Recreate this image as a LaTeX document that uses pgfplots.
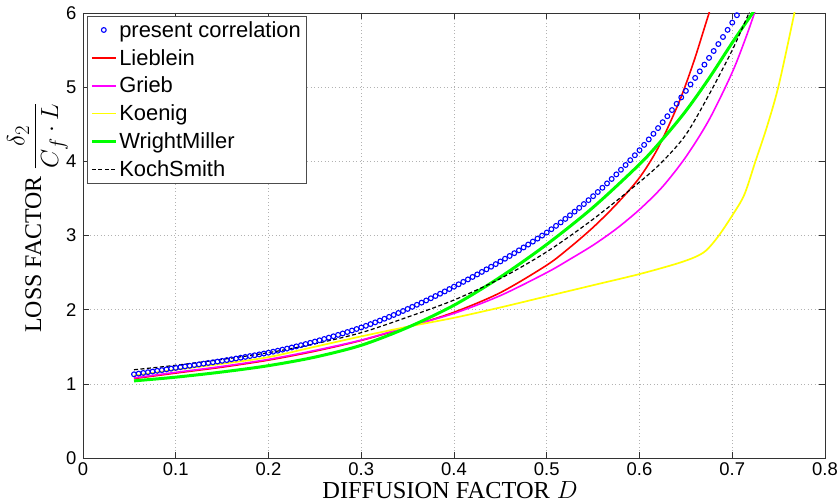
\documentclass[border=0pt]{standalone}
\usepackage{fontspec}
\setmainfont{Liberation Sans}
\newfontfamily\seriffont{Liberation Serif}
\usepackage{pgfplots}
\pgfplotsset{compat=1.18}
\definecolor{mblue}{RGB}{0,0,255}
\definecolor{mred}{RGB}{255,0,0}
\definecolor{mmag}{RGB}{255,0,255}
\definecolor{myel}{RGB}{255,255,0}
\definecolor{mgreen}{RGB}{0,255,0}
\pgfplotsset{
  lineleg/.style={legend image code/.code={\draw[##1] (0bp,0bp) -- (24bp,0bp);}},
  markleg/.style={legend image code/.code={\draw[##1] plot coordinates {(12bp,0bp)};}},
}
\begin{document}
\begin{tikzpicture}
\begin{axis}[
  scale only axis, width=742bp, height=445bp,
  xmin=0, xmax=0.8, ymin=0, ymax=6,
  xtick={0,0.1,0.2,0.3,0.4,0.5,0.6,0.7,0.8},
  xticklabels={0,0.1,0.2,0.3,0.4,0.5,0.6,0.7,0.8},
  ytick={0,1,2,3,4,5,6},
  yticklabels={0,1,2,3,4,5,6},
  /pgf/number format/assume math mode=true,
  tick label style={font=\fontsize{18.5}{21}\selectfont},
  xticklabel style={inner sep=1bp, yshift=-3.5bp},
  yticklabel style={xshift=-3bp},
  tick align=inside, major tick length=6bp,
  tick style={black!80, line width=0.6bp},
  grid=major,
  grid style={gray!60, dash pattern=on 1bp off 2.5bp, line width=0.6bp},
  axis line style={black!80, line width=0.7bp},
  xlabel={{\seriffont DIFFUSION FACTOR} $D$},
  xlabel style={at={(axis description cs:0.5,0)}, anchor=base, inner sep=0pt, yshift=-40bp, xshift=-4bp, font=\fontsize{24.5}{27}\selectfont},
  ylabel={{\seriffont LOSS FACTOR} {\fontsize{30}{32}\selectfont$\displaystyle\frac{\delta_2}{C_f\cdot L}$}},
  ylabel style={at={(axis description cs:-0.0613,0.54)}, anchor=center, inner sep=0pt, font=\fontsize{24}{27}\selectfont},
  legend style={at={(0,1)}, anchor=north west, xshift=4bp, yshift=-3bp,
    font=\fontsize{22}{25}\selectfont, draw=black!70, line width=0.6bp,
    inner xsep=3bp, inner ysep=3bp, row sep=6.5bp},
  legend cell align=left,
  lineleg,
]
\coordinate (sw) at (rel axis cs:0,0);
\coordinate (ne) at (rel axis cs:1,1);

\addplot[only marks, mark=o, mark size=2.4bp, mblue, line width=1.1bp, markleg] coordinates {
(0.055,1.129)(0.06,1.138)(0.065,1.147)(0.07,1.157)(0.075,1.166)(0.08,1.176)(0.085,1.185)(0.09,1.195)(0.095,1.205)(0.1,1.215)
(0.105,1.2245)(0.11,1.234)(0.115,1.2435)(0.12,1.253)(0.125,1.2625)(0.13,1.272)(0.135,1.2815)(0.14,1.291)(0.145,1.3005)(0.15,1.31)
(0.155,1.3203)(0.16,1.3308)(0.165,1.3414)(0.17,1.3522)(0.175,1.3631)(0.18,1.3742)(0.185,1.3854)(0.19,1.3968)(0.195,1.4083)(0.2,1.42)
(0.205,1.4332)(0.21,1.4468)(0.215,1.4608)(0.22,1.4752)(0.225,1.49)(0.23,1.5052)(0.235,1.5208)(0.24,1.5368)(0.245,1.5532)(0.25,1.57)
(0.255,1.5872)(0.26,1.6048)(0.265,1.6228)(0.27,1.6412)(0.275,1.66)(0.28,1.6792)(0.285,1.6988)(0.29,1.7188)(0.295,1.7392)(0.3,1.76)
(0.305,1.7823)(0.31,1.8052)(0.315,1.8287)(0.32,1.8528)(0.325,1.8775)(0.33,1.9028)(0.335,1.9287)(0.34,1.9552)(0.345,1.9823)(0.35,2.01)
(0.355,2.0378)(0.36,2.066)(0.365,2.0948)(0.37,2.124)(0.375,2.1538)(0.38,2.184)(0.385,2.2148)(0.39,2.246)(0.395,2.2778)(0.4,2.31)
(0.405,2.3422)(0.41,2.3748)(0.415,2.4078)(0.42,2.4412)(0.425,2.475)(0.43,2.5092)(0.435,2.5438)(0.44,2.5788)(0.445,2.6142)(0.45,2.65)
(0.455,2.6868)(0.46,2.724)(0.465,2.7618)(0.47,2.8)(0.475,2.8388)(0.48,2.878)(0.485,2.9178)(0.49,2.958)(0.495,2.9988)(0.5,3.04)
(0.505,3.0845)(0.51,3.13)(0.515,3.1765)(0.52,3.224)(0.525,3.2725)(0.53,3.322)(0.535,3.3725)(0.54,3.424)(0.545,3.4765)(0.55,3.53)
(0.555,3.5862)(0.56,3.6436)(0.565,3.7024)(0.57,3.7624)(0.575,3.8238)(0.58,3.8864)(0.585,3.9504)(0.59,4.0156)(0.595,4.0822)(0.6,4.15)
(0.605,4.2219)(0.61,4.2956)(0.615,4.3711)(0.62,4.4484)(0.625,4.5275)(0.63,4.6084)(0.635,4.6911)(0.64,4.7756)(0.645,4.8619)(0.65,4.95)
(0.655,5.0366)(0.66,5.1244)(0.665,5.2134)(0.67,5.3036)(0.675,5.395)(0.68,5.4876)(0.685,5.5814)(0.69,5.6764)(0.695,5.7726)(0.7,5.87)
(0.705,5.97)
};
\addlegendentry{present correlation}

\addplot[mred, line width=1.6bp, smooth] coordinates {
(0.055,1.07)(0.1,1.145)(0.15,1.225)(0.2,1.32)(0.25,1.44)(0.3,1.585)(0.35,1.765)(0.4,1.965)(0.45,2.23)(0.5,2.6)(0.525,2.84)(0.55,3.11)(0.575,3.42)(0.6,3.78)(0.62,4.18)(0.64,4.72)(0.65,5.04)(0.66,5.4)(0.67,5.8)(0.675,6.0)(0.68,6.2)
};
\addlegendentry{Lieblein}

\addplot[mmag, line width=1.6bp, smooth] coordinates {
(0.055,1.08)(0.1,1.155)(0.15,1.235)(0.2,1.33)(0.25,1.45)(0.3,1.59)(0.35,1.77)(0.4,1.95)(0.45,2.19)(0.5,2.5)(0.525,2.68)(0.55,2.87)(0.575,3.09)(0.6,3.35)(0.625,3.66)(0.65,4.06)(0.675,4.56)(0.7,5.2)(0.715,5.68)(0.724,6.0)(0.73,6.2)
};
\addlegendentry{Grieb}

\addplot[myel, line width=1.7bp, smooth] coordinates {
(0.055,1.11)(0.1,1.19)(0.15,1.27)(0.2,1.36)(0.25,1.5)(0.3,1.64)(0.35,1.77)(0.4,1.89)(0.45,2.03)(0.5,2.18)(0.55,2.33)(0.6,2.48)(0.64,2.62)(0.66,2.71)(0.672,2.8)(0.685,2.99)(0.7,3.27)(0.713,3.55)(0.725,4.0)(0.737,4.45)(0.75,5.02)(0.767,6.0)(0.77,6.2)
};
\addlegendentry{Koenig}

\addplot[mgreen, line width=3bp, smooth] coordinates {
(0.055,1.04)(0.1,1.09)(0.15,1.16)(0.2,1.245)(0.25,1.36)(0.3,1.52)(0.35,1.76)(0.4,2.06)(0.45,2.44)(0.5,2.88)(0.55,3.38)(0.6,3.96)(0.625,4.3)(0.65,4.68)(0.675,5.12)(0.7,5.6)(0.722,6.0)(0.73,6.15)
};
\addlegendentry{WrightMiller}

\addplot[black, line width=1.2bp, dash pattern=on 4bp off 2.5bp, smooth] coordinates {
(0.055,1.19)(0.1,1.25)(0.15,1.33)(0.2,1.42)(0.25,1.54)(0.3,1.69)(0.35,1.9)(0.4,2.13)(0.45,2.42)(0.5,2.78)(0.55,3.22)(0.6,3.72)(0.625,4.0)(0.65,4.36)(0.675,4.9)(0.7,5.5)(0.718,6.0)(0.725,6.2)
};
\addlegendentry{KochSmith}
\end{axis}
\pgfresetboundingbox
\path[use as bounding box] ([shift={(-83bp,-44bp)}]sw) rectangle ([shift={(12bp,13bp)}]ne);
\end{tikzpicture}
\end{document}
